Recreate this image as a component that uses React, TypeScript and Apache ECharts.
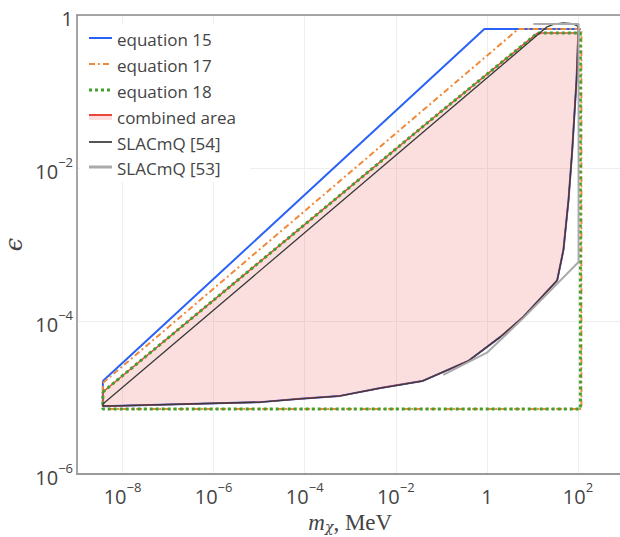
import React, { useEffect, useRef } from 'react';
import * as echarts from 'echarts';

// tick exponents shown on the axes
const xTickExps = [-8, -6, -4, -2, 0, 2];
const yTickExps = [-6, -4, -2, 0];

// lower boundary (SLACmQ [54] lower branch), mass in MeV / epsilon
const lowerMass = [3.7e-9, 1.05e-5, 8e-5, 6e-4, 4.6e-3, 0.038, 0.39, 1.98, 6.3, 35, 48, 62, 75, 93, 103];
const lowerEps = [7.7e-6, 8.7e-6, 9.6e-6, 1.05e-5, 1.33e-5, 1.64e-5, 3.0e-5, 6.2e-5, 1.13e-4, 3.4e-4, 8.5e-4, 3.8e-3, 0.0172, 0.141, 0.637];

// equation 15 upper branch
const eq15Mass = [3.7e-9, 0.88, 113];
const eq15Eps = [1.64e-5, 0.656, 0.656];

// equation 17 closed contour
const eq17Mass = [3.7e-9, 4.9, 119, 119, 3.7e-9, 3.7e-9];
const eq17Eps = [1.55e-5, 0.656, 0.656, 7.1e-6, 7.1e-6, 1.55e-5];

// equation 18 closed contour
const eq18Mass = [3.7e-9, 0.066, 5.4, 12.9, 113, 113, 3.7e-9, 3.7e-9];
const eq18Eps = [1.18e-5, 0.045, 0.38, 0.58, 0.58, 7.1e-6, 7.1e-6, 1.18e-5];

// combined area upper branch
const combMass = [3.7e-9, 0.066, 5.4, 12.9, 100];
const combEps = [1.18e-5, 0.045, 0.38, 0.58, 0.58];

// SLACmQ [54] upper branch
const slac54Mass = [3.7e-9, 21, 30, 48, 75, 97];
const slac54Eps = [8.2e-6, 0.70, 0.76, 0.79, 0.77, 0.72];

// SLACmQ [53]
const slac53Mass = [0.11, 1.03, 6.3, 103, 103, 10.5];
const slac53Eps = [1.97e-5, 3.9e-5, 1.09e-4, 5.9e-4, 0.76, 0.76];

const legendNames = ['equation 15', 'equation 17', 'equation 18', 'combined area', 'SLACmQ [54]', 'SLACmQ [53]'];

const C_BLUE = '#2962f5';
const C_ORANGE = '#ef8a3a';
const C_GREEN = '#43a02c';
const C_RED = '#e8453c';
const C_DARK = '#3a3a3a';
const C_GRAY = '#aaaaaa';

const zip = (xs: number[], ys: number[]) => xs.map((x, i) => [x, ys[i]]);
const toLog = (pts: number[][]) => pts.map(([m, e]) => [Math.log10(m), Math.log10(e)]);

const lowerPts = zip(lowerMass, lowerEps);
const lowerRev = lowerPts.slice().reverse();

const eq15Pts = [...zip(eq15Mass, eq15Eps), ...lowerRev, [eq15Mass[0], eq15Eps[0]]];
const eq17Pts = zip(eq17Mass, eq17Eps);
const eq18Pts = zip(eq18Mass, eq18Eps);
const combPts = [
  ...zip(combMass, combEps),
  ...lowerPts.filter((p) => p[1] < combEps[combEps.length - 1]).reverse(),
  [combMass[0], combEps[0]],
];
const slac54Pts = [...zip(slac54Mass, slac54Eps), ...lowerRev, [slac54Mass[0], slac54Eps[0]]];
const slac53Pts = zip(slac53Mass, slac53Eps);

const FONT = '"Open Sans", "Noto Sans", sans-serif';

function lineSeries(name: string, pts: number[][], color: string, width: number, type: any, z: number) {
  return {
    name,
    type: 'line',
    data: toLog(pts),
    showSymbol: false,
    symbol: 'none',
    lineStyle: { color, width, type, cap: 'butt' },
    z,
    silent: true,
  };
}

export default function App() {
  const ref = useRef<HTMLDivElement>(null);
  useEffect(() => {
    if (!ref.current) return;
    const chart = echarts.init(ref.current, undefined, { renderer: 'svg' });
    const rowsY = [39, 65, 91, 117, 143, 168];
    const legendGraphics: any[] = [
      { type: 'rect', shape: { x: 80, y: 24, width: 170, height: 158 }, style: { fill: '#ffffff' }, z: 50 },
    ];
    const iconStyles = [
      { stroke: C_BLUE, lineWidth: 2 },
      { stroke: C_ORANGE, lineWidth: 2, lineDash: [6, 3, 2, 3] },
      { stroke: C_GREEN, lineWidth: 3, lineDash: [3, 3] },
      { stroke: C_RED, lineWidth: 2 },
      { stroke: '#555555', lineWidth: 2 },
      { stroke: C_GRAY, lineWidth: 3 },
    ];
    legendNames.forEach((n, i) => {
      const y = rowsY[i];
      if (i === 3) {
        legendGraphics.push({
          type: 'rect',
          shape: { x: 89, y: y - 2, width: 23, height: 5 },
          style: { fill: 'rgba(230,60,60,0.17)' },
          z: 51,
        });
        legendGraphics.push({
          type: 'line',
          shape: { x1: 89, y1: y - 2, x2: 112, y2: y - 2 },
          style: iconStyles[i],
          z: 52,
        });
      } else {
        legendGraphics.push({
          type: 'line',
          shape: { x1: 89, y1: y - 1, x2: 112, y2: y - 1 },
          style: iconStyles[i],
          z: 52,
        });
      }
      legendGraphics.push({
        type: 'text',
        x: 117,
        y,
        style: { text: n, fill: '#444', font: `17px ${FONT}`, textVerticalAlign: 'middle', textAlign: 'left' },
        z: 52,
      });
    });

    const supRich = {
      b: { fontSize: 20, fontFamily: FONT, color: '#444', lineHeight: 26, verticalAlign: 'bottom' },
      s: { fontSize: 13, fontFamily: FONT, color: '#444', lineHeight: 14, verticalAlign: 'top' },
    };
    const fmt = (v: number) => {
      const r = Math.round(v);
      return r === 0 ? '{b|1}' : `{b|10}{s|${r < 0 ? '\u2212' + -r : r}}`;
    };
    const isTick = (v: number, list: number[]) => Math.abs(v - Math.round(v)) < 1e-6 && list.includes(Math.round(v));
    const fmtX = (v: number) => (isTick(v, xTickExps) ? fmt(v) : '');
    const fmtY = (v: number) => (isTick(v, yTickExps) ? fmt(v) : '');

    chart.setOption({
      animation: false,
      backgroundColor: '#ffffff',
      grid: { left: 77, top: 15, right: -3.5, bottom: 63, containLabel: false, outerBoundsMode: 'none' },
      xAxis: [
        {
          type: 'value',
          min: -9,
          max: 3,
          splitNumber: 6,
          axisLine: { show: true, onZero: false, lineStyle: { color: '#9a9a9a', width: 2 } },
          axisTick: { show: false },
          axisLabel: { formatter: fmtX, rich: supRich, margin: 6, showMinLabel: true, showMaxLabel: true },
          splitLine: { show: true, lineStyle: { color: '#eeeeee', width: 1 } },
          name: '{i|m}{sub|\u03c7}{r|, MeV}',
          nameLocation: 'middle',
          nameGap: 28,
          nameTextStyle: {
            rich: {
              i: { fontFamily: '"Liberation Serif", serif', fontStyle: 'italic', fontSize: 23, color: '#444', lineHeight: 26, verticalAlign: 'bottom' },
              sub: { fontFamily: '"DejaVu Serif", serif', fontStyle: 'italic', fontSize: 14, color: '#444', lineHeight: 18, verticalAlign: 'bottom' },
              r: { fontFamily: '"Liberation Serif", serif', fontSize: 23, color: '#444', lineHeight: 26, verticalAlign: 'bottom' },
            },
          },
        },
        {
          type: 'value',
          position: 'top',
          min: -9,
          max: 3,
          axisLine: { show: true, onZero: false, lineStyle: { color: '#8a8a8a', width: 1.5 } },
          axisTick: { show: false },
          axisLabel: { show: false },
          splitLine: { show: false },
        },
      ],
      yAxis: {
        type: 'value',
        min: -6,
        max: 0,
        interval: 2,
        axisLine: { show: true, onZero: false, lineStyle: { color: '#8a8a8a', width: 1.5 } },
        axisTick: { show: false },
        axisLabel: { formatter: fmtY, rich: supRich, margin: 4 },
        splitLine: { show: true, lineStyle: { color: '#eeeeee', width: 1 } },
        name: '\u03f5',
        nameLocation: 'middle',
        nameRotate: 90,
        nameGap: 50,
        nameMoveOverlap: false,
        nameTextStyle: { fontFamily: '"DejaVu Serif", serif', fontStyle: 'italic', fontSize: 24, color: '#444', lineHeight: 26 },
      },
      graphic: legendGraphics,
      series: [
        {
          name: 'combined fill',
          type: 'custom',
          silent: true,
          z: 1,
          data: [toLog([combPts[0]])[0]],
          renderItem: (params: any, api: any) => {
            const pts = toLog(combPts).map((p) => api.coord(p));
            return {
              type: 'polygon',
              shape: { points: pts },
              style: { fill: 'rgba(230,60,60,0.17)', stroke: 'none' },
            };
          },
        },
        lineSeries('equation 15', eq15Pts, C_BLUE, 2, 'solid', 3),
        lineSeries('equation 17', eq17Pts, C_ORANGE, 2, [6, 3, 2, 3], 4),
        lineSeries('combined area', combPts, C_RED, 1.5, 'solid', 5),
        lineSeries('equation 18', eq18Pts, C_GREEN, 3, [3, 3], 6),
        lineSeries('SLACmQ [54]', slac54Pts, C_DARK, 1.3, 'solid', 7),
        lineSeries('SLACmQ [53]', slac53Pts, C_GRAY, 2, 'solid', 8),
      ],
    });
    return () => chart.dispose();
  }, []);
  return <div ref={ref} style={{ position: 'fixed', left: 0, top: 0, width: 620, height: 537 }} />;
}
